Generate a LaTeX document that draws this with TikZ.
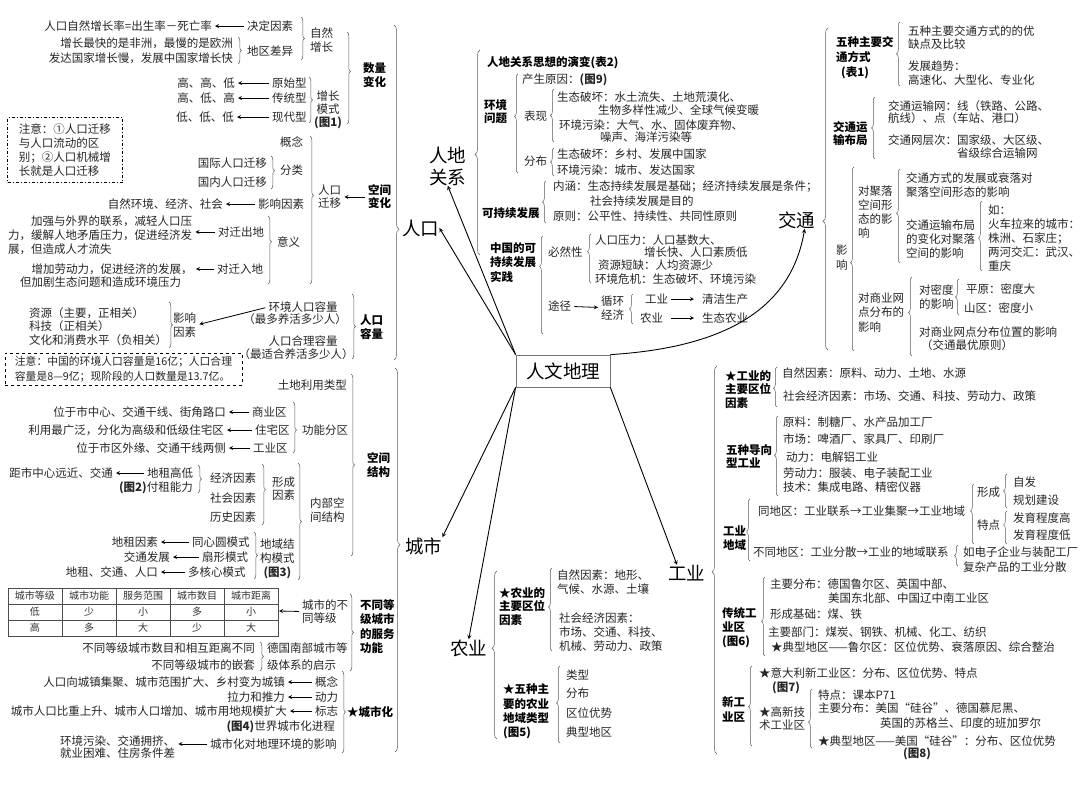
\documentclass[tikz,border=0pt]{standalone}
\usepackage{fontspec}
\setmainfont{Noto Sans CJK SC}
\usetikzlibrary{shapes,arrows,positioning,calc,decorations.pathreplacing}

\tikzset{
    txt/.style={inner sep=0pt, text=black!85, font=\fontsize{11.5}{14}\selectfont},
    hd/.style={inner sep=0pt, text=black, font=\fontsize{11.5}{14}\selectfont\bfseries},
    big/.style={inner sep=0pt, font=\fontsize{18.5}{22}\selectfont},
    cell/.style={inner sep=0pt, text=black!80, font=\fontsize{10}{12}\selectfont},
    arr/.style={-stealth, line width=0.8pt, shorten >=3pt, shorten <=3pt},
    main/.style={-stealth, line width=0.9pt},
    br/.style={decorate, decoration={brace, amplitude=3.5pt, aspect=#1}, line width=0.5pt, black!65},
    br/.default=0.5,
    bbr/.style={br=#1, decoration={amplitude=5pt}},
    bbr/.default=0.5
}

\begin{document}
\begin{tikzpicture}[x=1pt, y=-1pt]
    \fill[white] (0,0) rectangle (1080,801);
    \useasboundingbox (0,0) rectangle (1080,801);

    % centre
    \node[big, draw=black!55, line width=0.8pt, minimum width=94pt, minimum height=32pt] (rwdl) at (563,371) {人文地理};

    % ---------- 人口 ----------
    \node[big, anchor=west] (rk) at (402,228) {人口};
    \draw[bbr=0.61] (394,25) -- (394,360);

    \node[txt, anchor=east] (zrzzl) at (212,26) {人口自然增长率=出生率－死亡率};
    \node[txt, anchor=west] (jdys) at (247,26) {决定因素};
    \draw[arr] (jdys) -- (zrzzl);
    \node[txt, anchor=east, align=right, font=\fontsize{11.5}{15}\selectfont] (dqcyd) at (233,51) {增长最快的是非洲，最慢的是欧洲\\发达国家增长慢，发展中国家增长快};
    \draw[br] (238,37) -- (238,64);
    \node[txt, anchor=west] (dqcy) at (247,51) {地区差异};
    \draw[br] (301,17) -- (301,60);
    \node[txt, anchor=west, align=left] (zrzz) at (310,40) {自然\\增长};

    \node[txt, anchor=east] (ysx1) at (235,83) {高、高、低};
    \node[txt, anchor=west] (ysx) at (272,83) {原始型};
    \node[txt, anchor=east] (ctx1) at (235,98) {高、低、高};
    \node[txt, anchor=west] (ctx) at (272,98) {传统型};
    \node[txt, anchor=east] (xdx1) at (234,117) {低、低、低};
    \node[txt, anchor=west] (xdx) at (272,117) {现代型};
    \draw[arr] (ysx) -- (ysx1);
    \draw[arr] (ctx) -- (ctx1);
    \draw[arr] (xdx) -- (xdx1);
    \draw[br] (309,77) -- (309,123);
    \node[txt, align=center, font=\fontsize{11.5}{13}\selectfont] (zzms) at (328,110) {增长\\模式\\{\bfseries(图1)}};
    \draw[br=0.43] (347,32) -- (347,124);
    \node[hd, anchor=west, align=left] (slbh) at (363,75) {数量\\变化};

    \node[txt, draw, dash pattern=on 3pt off 2pt on 1pt off 2pt, align=left, minimum width=115pt, minimum height=65pt] (zy1) at (65,150) {注意：①人口迁移\\与人口流动的区\\别；②人口机械增\\长就是人口迁移};

    \node[txt, anchor=west] (gn1) at (280,142) {概念};
    \node[txt, anchor=east] (gjqy) at (267,163) {国际人口迁移};
    \node[txt, anchor=east] (gnqy) at (267,182) {国内人口迁移};
    \draw[br=0.45] (271,156) -- (271,189);
    \node[txt, anchor=west] (fl) at (280,170) {分类};
    \node[txt, anchor=east] (yxys1d) at (223,204) {自然环境、经济、社会};
    \node[txt, anchor=west] (yxys1) at (258,204) {影响因素};
    \draw[arr] (yxys1) -- (yxys1d);
    \node[txt, anchor=west, align=left] (qcdd) at (8,235) {\hspace*{2em}加强与外界的联系，减轻人口压\\力，缓解人地矛盾压力，促进经济发\\展，但造成人才流失};
    \node[txt, anchor=west] (qcd) at (218,232) {对迁出地};
    \draw[arr] (qcd.west) -- (qcd.west -| qcdd.east);
    \node[txt, anchor=west, align=left, font=\fontsize{11.5}{13}\selectfont] (qrdd) at (20,275.5) {\hspace*{1em}增加劳动力，促进经济的发展，\\但加剧生态问题和造成环境压力};
    \node[txt, anchor=west] (qrd) at (217,269) {对迁入地};
    \draw[arr] (qrd.west) -- (qrd.west -| qrdd.east);
    \draw[br=0.38] (268,216) -- (268,284);
    \node[txt, anchor=west] (yy) at (277,242) {意义};
    \draw[br=0.4] (310,136) -- (310,284);
    \node[txt, anchor=west, align=left, font=\fontsize{11.5}{13}\selectfont] (rkqy) at (318,197) {人口\\迁移};
    \node[hd, anchor=west, align=left, font=\fontsize{11.5}{13}\selectfont\bfseries] (kjbh) at (368,197) {空间\\变化};
    \draw[arr] (kjbh) -- (rkqy);

    \node[txt, anchor=west, align=left, font=\fontsize{11.5}{13.5}\selectfont] (zyxs) at (29,326.5) {资源（主要，正相关）\\科技（正相关）\\文化和消费水平（负相关）};
    \draw[br] (169,302) -- (169,348);
    \node[txt, anchor=west, align=left] (yxys2) at (173,325) {影响\\因素};
    \node[txt] (hjrl) at (303,307) {环境人口容量};
    \node[txt] (hjrlb) at (295,319) {（最多养活多少人）};
    \node[txt] (hlrl) at (303,341) {人口合理容量};
    \node[txt] (hlrlb) at (296,354) {（最适合养活多少人）};
    \draw[arr] (hjrl.west) -- (yxys2.east);
    \draw[br] (352,294) -- (352,359);
    \node[hd, anchor=west, align=left] (rkrl) at (360,327) {人口\\容量};
    \node[txt, draw, dashed, align=left, minimum width=237pt, minimum height=32pt, font=\fontsize{10.8}{15}\selectfont] (zy2) at (123.5,369) {注意：中国的环境人口容量是16亿；人口合理\\容量是8—9亿；现阶段的人口数量是13.7亿。};

    % ---------- 城市 ----------
    \node[big, anchor=west] (cs) at (405,546) {城市};
    \draw[bbr=0.46] (395,368) -- (395,752);

    \node[txt, anchor=east] (tdly) at (347,385) {土地利用类型};
    \node[txt, anchor=east] (syqd) at (226,412) {位于市中心、交通干线、街角路口};
    \node[txt, anchor=west] (syq) at (252,412) {商业区};
    \node[txt, anchor=east] (zzqd) at (224,430) {利用最广泛，分化为高级和低级住宅区};
    \node[txt, anchor=west] (zzq) at (255,430) {住宅区};
    \node[txt, anchor=east] (gyqd) at (226,448) {位于市区外缘、交通干线两侧};
    \node[txt, anchor=west] (gyq) at (253,448) {工业区};
    \draw[arr] (syq) -- (syqd);
    \draw[arr] (zzq) -- (zzqd);
    \draw[arr] (gyq) -- (gyqd);
    \draw[br=0.55] (293,402) -- (293,453);
    \node[txt, anchor=west] (gnfq) at (302,430) {功能分区};

    \node[txt, anchor=east] (dzgdd) at (113,473) {距市中心远近、交通};
    \node[txt, anchor=west] (dzgd) at (147,473) {地租高低};
    \draw[arr] (dzgd) -- (dzgdd);
    \node[txt, anchor=east] (fznl) at (193,488) {{\bfseries(图2)}付租能力};
    \draw[br] (198,465) -- (198,493);
    \node[txt, anchor=west] (jjys) at (210,478) {经济因素};
    \node[txt, anchor=west] (shys) at (210,498) {社会因素};
    \node[txt, anchor=west] (lsys) at (210,517) {历史因素};
    \draw[br=0.42] (262,464) -- (262,525);
    \node[txt, anchor=west, align=left, font=\fontsize{11.5}{13}\selectfont] (xcys) at (272,488.5) {形成\\因素};
    \node[txt, anchor=east] (dzys) at (158,542) {地租因素};
    \node[txt, anchor=west] (txy) at (192,542) {同心圆模式};
    \node[txt, anchor=east] (jtfz) at (170,557) {交通发展};
    \node[txt, anchor=west] (sxms) at (202,557) {扇形模式};
    \node[txt, anchor=east] (dzjt) at (158,572) {地租、交通、人口};
    \node[txt, anchor=west] (dhx) at (188,572) {多核心模式};
    \draw[arr] (txy) -- (dzys);
    \draw[arr] (sxms) -- (jtfz);
    \draw[arr] (dhx) -- (dzjt);
    \draw[br] (254,532) -- (254,579);
    \node[txt, anchor=west, align=center] (dyjg) at (260,559) {地域结\\构模式\\{\bfseries(图3)}};
    \draw[br] (298,463) -- (298,580);
    \node[txt, anchor=west, align=left] (nbkj) at (310,510) {内部空\\间结构};
    \draw[br] (351,374) -- (351,556);
    \node[hd, anchor=west, align=left] (kjjg) at (367,465) {空间\\结构};

    % table
    \draw[line width=0.6pt, black!70] (8,588) rectangle (278,636);
    \foreach \y in {604,620}
        \draw[line width=0.6pt, black!70] (8,\y) -- (278,\y);
    \foreach \x in {62,116,170,224}
        \draw[line width=0.6pt, black!70] (\x,588) -- (\x,636);
    \foreach \t [count=\i] in {城市等级,城市功能,服务范围,城市数目,城市距离}
        \node[cell] (th\i) at ({8+54*(\i-0.5)},596) {\t};
    \foreach \t [count=\i] in {低,少,小,多,小}
        \node[cell] (ta\i) at ({8+54*(\i-0.5)},612) {\t};
    \foreach \t [count=\i] in {高,多,大,少,大}
        \node[cell] (tb\i) at ({8+54*(\i-0.5)},628) {\t};
    \coordinate (tbr) at (279,611);
    \node[txt, anchor=west, align=left, font=\fontsize{11.5}{13}\selectfont] (csdj) at (302,611.5) {城市的不\\同等级};
    \draw[arr, shorten >=0pt] (csdj.west) -- (tbr);

    \node[txt, anchor=east] (dgmd) at (255,648) {不同等级城市数目和相互距离不同};
    \node[txt, anchor=east] (dgqt) at (255,665) {不同等级城市的嵌套};
    \draw[br] (260,642) -- (260,671);
    \node[txt, anchor=west, align=left, font=\fontsize{11.5}{17}\selectfont] (dgnb) at (267,656.5) {德国南部城市等\\级体系的启示};
    \draw[br] (350,594) -- (350,671);
    \node[hd, anchor=west, align=left, font=\fontsize{11.5}{14.3}\selectfont\bfseries] (btdj) at (360,626.5) {不同等\\级城市\\的服务\\功能};

    \node[txt, anchor=east] (gnd) at (285,682) {人口向城镇集聚、城市范围扩大、乡村变为城镇};
    \node[txt, anchor=west] (gn2) at (315,682) {概念};
    \node[txt, anchor=east] (dld) at (285,697) {拉力和推力};
    \node[txt, anchor=west] (dl) at (315,697) {动力};
    \node[txt, anchor=east] (bzd) at (287,711) {城市人口比重上升、城市人口增加、城市用地规模扩大};
    \node[txt, anchor=west] (bz) at (315,711) {标志};
    \draw[arr] (gn2) -- (gnd);
    \draw[arr] (dl) -- (dld);
    \draw[arr] (bz) -- (bzd);
    \node[txt, anchor=east] (sjcs) at (335,727) {{\bfseries(图4)}世界城市化进程};
    \node[txt, anchor=west, align=left, font=\fontsize{11.5}{12.5}\selectfont] (hjwr) at (60,747) {环境污染、交通拥挤、\\就业困难、住房条件差};
    \node[txt, anchor=west] (cshyx) at (210,744) {城市化对地理环境的影响};
    \draw[arr] (cshyx.west) -- (cshyx.west -| hjwr.east);
    \draw[br] (342,671) -- (342,753);
    \node[hd, anchor=west] (csh) at (347,712) {★城市化};

    % ---------- 人地关系 ----------
    \node[big, anchor=west, align=left] (rdgx) at (429,166) {人地\\关系};
    \draw[bbr=0.49] (480,255) -- (480,50);
    \node[hd, anchor=west] (sxyb) at (487,63) {人地关系思想的演变(表2)};
    \node[hd, anchor=west, align=left, font=\fontsize{11.5}{13}\selectfont\bfseries] (hjwt) at (484,111.5) {环境\\问题};
    \draw[br=0.57] (518,173) -- (518,74);
    \node[txt, anchor=west] (csyy) at (522,80) {产生原因：{\bfseries(图9)}};
    \node[txt, anchor=west] (bx) at (524,116) {表现};
    \draw[br] (554,142) -- (554,89);
    \node[txt, anchor=west] (stph1) at (557,97) {生态破坏：水土流失、土地荒漠化、};
    \node[txt, anchor=west] (stph2) at (598,110) {生物多样性减少、全球气候变暖};
    \node[txt, anchor=west] (hjwr1) at (559,125) {环境污染：大气、水、固体废弃物、};
    \node[txt, anchor=west] (hjwr2) at (600,137) {噪声、海洋污染等};
    \node[txt, anchor=west] (fb) at (524,161) {分布};
    \draw[br] (554,176) -- (554,148);
    \node[txt, anchor=west] (fb1) at (557,154) {生态破坏：乡村、发展中国家};
    \node[txt, anchor=west] (fb2) at (557,170) {环境污染：城市、发达国家};

    \node[hd, anchor=west] (kcx) at (482,213) {可持续发展};
    \draw[br] (546,223) -- (546,181);
    \node[txt, anchor=west] (nh) at (553,187) {内涵：生态持续发展是基础；经济持续发展是条件；};
    \node[txt, anchor=west] (nhb) at (590,201) {社会持续发展是目的};
    \node[txt, anchor=west] (yz) at (553,216) {原则：公平性、持续性、共同性原则};
    \node[hd, anchor=west, align=left, font=\fontsize{11.5}{14.5}\selectfont\bfseries] (zgkcx) at (490,262.5) {中国的可\\持续发展\\实践};
    \draw[br=0.69] (543,334) -- (543,236);
    \node[txt, anchor=west] (brx) at (548,252) {必然性};
    \draw[br=0.64] (591,283) -- (591,234);
    \node[txt, anchor=west] (rkyl) at (595,240) {人口压力：人口基数大、};
    \node[txt, anchor=west] (rkylb) at (644,252) {增长快、人口素质低};
    \node[txt, anchor=west] (zydq) at (598,265) {资源短缺：人均资源少};
    \node[txt, anchor=west] (hjwj) at (595,279) {环境危机：生态破坏、环境污染};
    \node[txt, anchor=west] (tj) at (548,306) {途径};
    \node[txt, anchor=west, align=left] (xhjj) at (601,308) {循环\\经济};
    \draw[arr] (tj) -- (xhjj);
    \draw[br] (633,324) -- (633,294);
    \node[txt, anchor=west] (gyb) at (645,299) {工业};
    \node[txt, anchor=west] (qjsc) at (702,299) {清洁生产};
    \node[txt, anchor=west] (nyb) at (640,318) {农业};
    \node[txt, anchor=west] (stny) at (702,318) {生态农业};
    \draw[arr, shorten >=8pt] (gyb) -- (qjsc);
    \draw[arr, shorten >=8pt, shorten <=8pt] (nyb) -- (stny);

    % ---------- 交通 ----------
    \node[big, anchor=west] (jt) at (778,220) {交通};
    \draw[bbr=0.40] (828,350) -- (828,28);
    \node[hd, anchor=west, align=left, font=\fontsize{11.5}{15}\selectfont\bfseries] (wzjt) at (836,58) {五种主要交\\通方式\\\hspace*{5pt}(表1)};
    \draw[br] (900,86) -- (900,22);
    \node[txt, anchor=west, align=left, font=\fontsize{11.5}{13}\selectfont] (yqd) at (908,38) {五种主要交通方式的的优\\缺点及比较};
    \node[txt, anchor=west, align=left] (fzqs) at (908,73) {发展趋势：\\高速化、大型化、专业化};
    \node[hd, anchor=west, align=left, font=\fontsize{11.5}{13}\selectfont\bfseries] (jtbj) at (833,133.5) {交通运\\输布局};
    \draw[br] (875,159) -- (875,97);
    \node[txt, anchor=west, align=left, font=\fontsize{11.5}{12.5}\selectfont] (ysw) at (888,112) {交通运输网：线（铁路、公路、\\航线）、点（车站、港口）};
    \node[txt, anchor=west] (wcc) at (888,140) {交通网层次：国家级、大区级、};
    \node[txt, anchor=west] (wccb) at (957,153) {省级综合运输网};
    \node[txt, anchor=west, align=left, font=\fontsize{11.5}{15}\selectfont] (yx) at (836,257.5) {影\\响};
    \draw[br=0.48] (854,351) -- (854,167);
    \node[txt, anchor=west, align=left] (djl) at (858,212) {对聚落\\空间形\\态的影\\响};
    \draw[br=0.53] (900,263) -- (900,169);
    \node[txt, anchor=west, align=left] (fzsl) at (906,185) {交通方式的发展或衰落对\\聚落空间形态的影响};
    \node[txt, anchor=west, align=left] (bjbh) at (906,239) {交通运输布局\\的变化对聚落\\空间的影响};
    \draw[br=0.47] (982,271) -- (982,201);
    \node[txt, anchor=west, align=left] (rz) at (988,238) {如：\\火车拉来的城市：\\株洲、石家庄；\\两河交汇：武汉、\\重庆};
    \node[txt, anchor=west, align=left, font=\fontsize{11.5}{14.5}\selectfont] (dsy) at (858,312.5) {对商业网\\点分布的\\影响};
    \draw[br=0.55] (912,356) -- (912,277);
    \node[txt, anchor=west, align=left] (dmd) at (919,297) {对密度\\的影响};
    \draw[br] (959,315) -- (959,279);
    \node[txt, anchor=west] (py) at (966,289) {平原：密度大};
    \node[txt, anchor=west] (sq) at (964,308) {山区：密度小};
    \node[txt, anchor=west] (wzyx) at (919,332) {对商业网点分布位置的影响};
    \node[txt, anchor=west] (jtzy) at (921,345) {（交通最优原则）};

    % ---------- 工业 ----------
    \node[big, anchor=west] (gy) at (668,573) {工业};
    \draw[bbr=0.47] (717,754) -- (717,366);
    \node[hd, anchor=west, align=left, font=\fontsize{11.5}{13.5}\selectfont\bfseries] (gyqw) at (725,389.5) {★工业的\\主要区位\\因素};
    \draw[br=0.47] (777,407) -- (777,367);
    \node[txt, anchor=west] (gyzr) at (782,373) {自然因素：原料、动力、土地、水源};
    \node[txt, anchor=west] (gysh) at (783,396) {社会经济因素：市场、交通、科技、劳动力、政策};
    \node[hd, anchor=west, align=left, font=\fontsize{11.5}{13}\selectfont\bfseries] (wzdx) at (726,456.5) {五种导向\\型工业};
    \draw[br=0.51] (778,496) -- (778,416);
    \foreach \t/\y [count=\i] in {原料：制糖厂、水产品加工厂/422, 市场：啤酒厂、家具厂、印刷厂/439, \hspace*{3pt}动力：电解铝工业/457, 劳动力：服装、电子装配工业/473, 技术：集成电路、精密仪器/487}
        \node[txt, anchor=west] (dx\i) at (783,\y) {\t};
    \node[hd, anchor=west, align=left] (gydy) at (723,538) {工业\\地域};
    \draw[br=0.47] (750,561) -- (750,499);
    \node[txt, anchor=west] (tdq) at (758,511) {同地区：工业联系→工业集聚→工业地域};
    \draw[br=0.55] (974,544) -- (974,484);
    \node[txt, anchor=west] (xc) at (977,492) {形成};
    \draw[br] (1007,508) -- (1007,474);
    \node[txt, anchor=west] (zf) at (1013,482) {自发};
    \node[txt, anchor=west] (ghjs) at (1013,500) {规划建设};
    \node[txt, anchor=west] (tdd) at (977,525) {特点};
    \draw[br=0.58] (1007,544) -- (1007,511);
    \node[txt, anchor=west] (fyg) at (1013,518) {发育程度高};
    \node[txt, anchor=west] (fyd) at (1013,535) {发育程度低};
    \node[txt, anchor=west] (btdq) at (753,552) {不同地区：工业分散→工业的地域联系};
    \draw[br] (958,566) -- (958,545);
    \node[txt, anchor=west, align=left, font=\fontsize{11.5}{15}\selectfont] (rdz) at (963,559.5) {如电子企业与装配工厂\\复杂产品的工业分散};

    \node[hd, anchor=west, align=left] (ctgy) at (722,628) {传统工\\业区\\(图6)};
    \draw[br=0.44] (765,656) -- (765,577);
    \node[txt, anchor=west] (zyfb1) at (770,584) {主要分布：德国鲁尔区、英国中部、};
    \node[txt, anchor=west] (zyfb2) at (828,598) {美国东北部、中国辽中南工业区};
    \node[txt, anchor=west] (xcjc) at (770,614) {形成基础：煤、铁};
    \node[txt, anchor=west] (zybm) at (768,632) {主要部门：煤炭、钢铁、机械、化工、纺织};
    \node[txt, anchor=west] (dxdq1) at (771,647) {★典型地区——鲁尔区：区位优势、衰落原因、综合整治};

    \node[hd, anchor=west, align=left, font=\fontsize{11.5}{15}\selectfont\bfseries] (xgyq) at (722,709.5) {新工\\业区};
    \draw[br=0.49] (752,746) -- (752,666);
    \node[txt, anchor=west] (ydl) at (759,673) {★意大利新工业区：分布、区位优势、特点};
    \node[txt, anchor=west] (t7) at (772,688) {\bfseries(图7)};
    \node[txt, anchor=west, align=left, font=\fontsize{11.5}{13}\selectfont] (gxjs) at (759,718.5) {★高新技\\术工业区};
    \draw[br=0.44] (812,748) -- (812,689);
    \node[txt, anchor=west] (tdkb) at (818,695) {特点：课本P71};
    \node[txt, anchor=west] (zyfb3) at (818,708) {主要分布：美国“硅谷”、德国慕尼黑、};
    \node[txt, anchor=west] (zyfb4) at (880,723) {英国的苏格兰、印度的班加罗尔};
    \node[txt, anchor=west] (dxdq2) at (818,741) {★典型地区——美国“硅谷”：分布、区位优势};
    \node[txt, anchor=west] (t8) at (903,754) {\bfseries(图8)};

    % ---------- 农业 ----------
    \node[big, anchor=west] (ny) at (450,648) {农业};
    \draw[bbr=0.54] (497,739) -- (497,571);
    \node[hd, anchor=west, align=left, font=\fontsize{11.5}{13.5}\selectfont\bfseries] (nyqw) at (499,606.5) {★农业的\\主要区位\\因素};
    \draw[br=0.53] (552,651) -- (552,568);
    \node[txt, anchor=west, align=left] (nyzr) at (557,582) {自然因素：地形、\\气候、水源、土壤};
    \node[txt, anchor=west, align=left] (nysh) at (559,632) {社会经济因素：\\市场、交通、科技、\\机械、劳动力、政策};
    \node[hd, anchor=west, align=left, font=\fontsize{11.5}{14.3}\selectfont\bfseries] (wzny) at (503,711.5) {★五种主\\要的农业\\地域类型\\(图5)};
    \draw[br=0.52] (560,743) -- (560,666);
    \foreach \t/\y [count=\i] in {类型/675, 分布/693, 区位优势/713, 典型地区/732}
        \node[txt, anchor=west] (nl\i) at (566,\y) {\t};

    % centre arrows
    \draw[main] (rwdl.north west) -- (rdgx.south);
    \draw[main] (rwdl.north west) -- (rk.east);
    \draw[main] (rwdl.north east) .. controls +(130,-8) and +(-12,70) .. ([xshift=8pt]jt.south);
    \draw[main] (rwdl.south west) -- (cs.north east);
    \draw[main] (rwdl.south west) -- (ny.north);
    \draw[main] (rwdl.south east) -- (gy.140);
\end{tikzpicture}
\end{document}
